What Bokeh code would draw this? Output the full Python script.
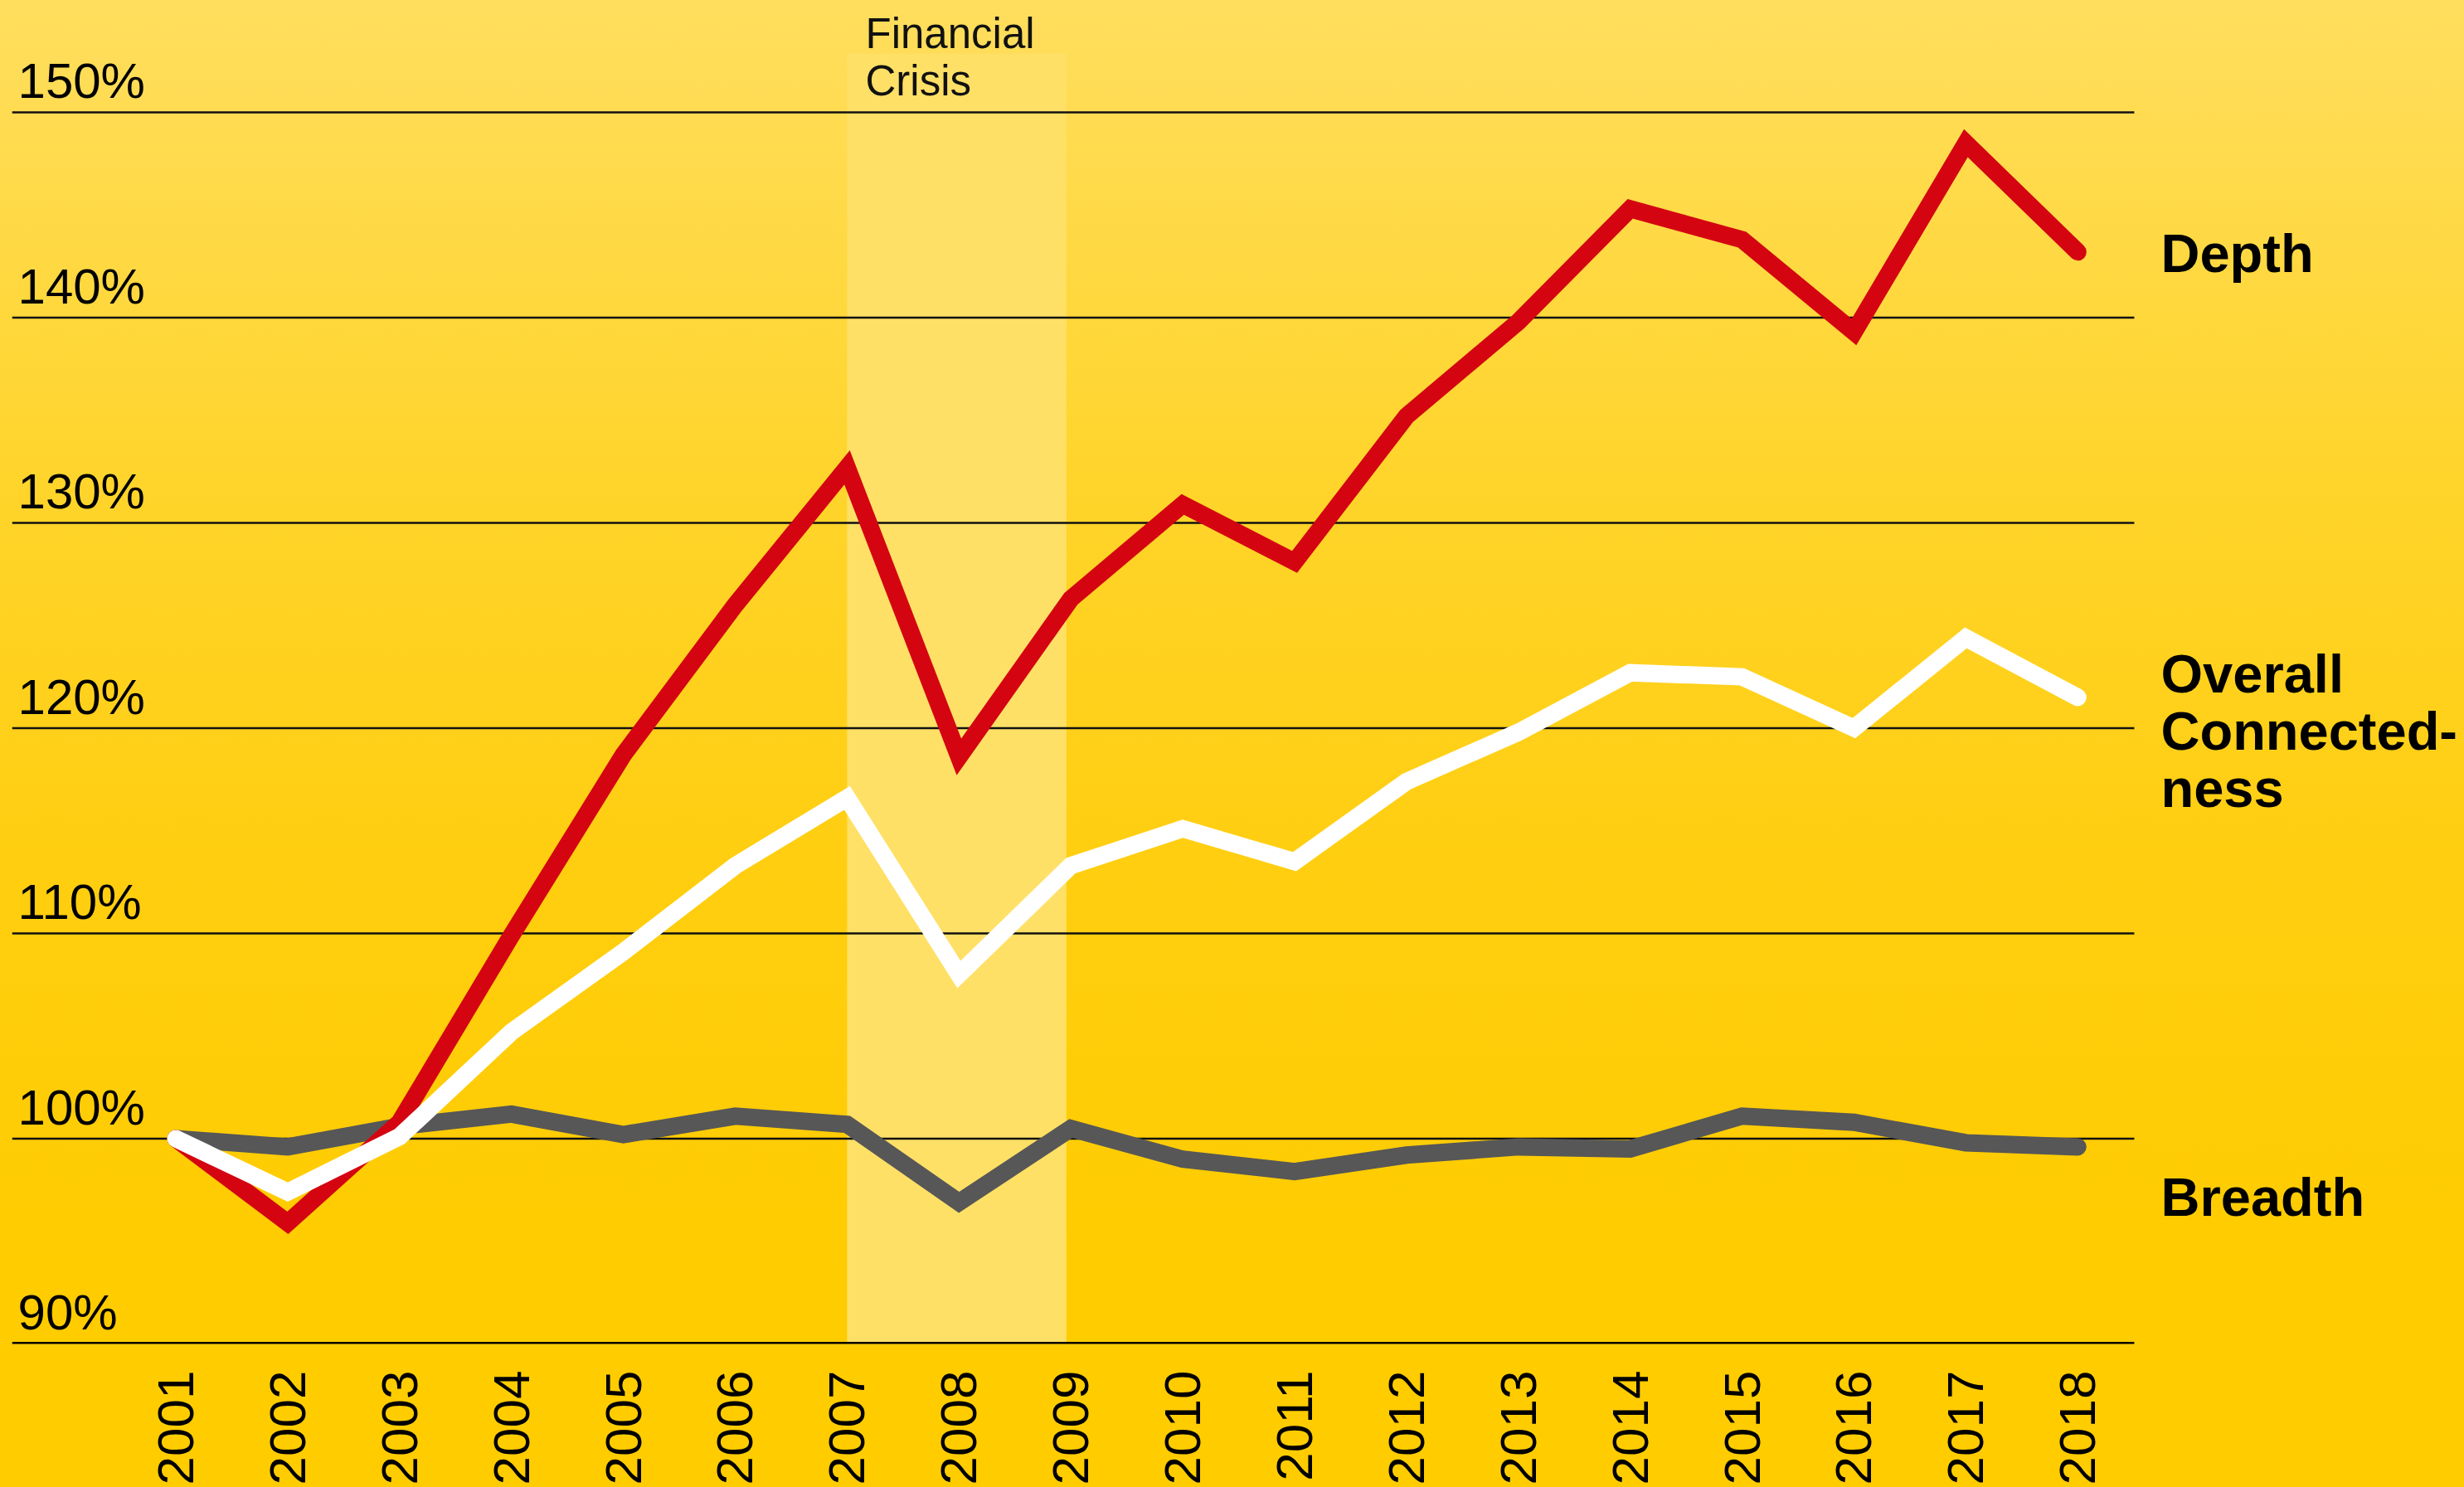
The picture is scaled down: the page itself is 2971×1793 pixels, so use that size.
import math
from bokeh.plotting import figure
from bokeh.models import FixedTicker, Range1d, BoxAnnotation
from bokeh.core.properties import value
from bokeh.embed import file_html
from bokeh.resources import INLINE

# ---------------- data ----------------
years = list(range(2001, 2019))
year_labels = [str(y) for y in years]

depth = [100.0, 95.9, 100.8, 109.9, 118.7, 126.0, 132.7, 118.6, 126.3, 130.9,
         128.1, 135.2, 139.8, 145.3, 143.8, 139.3, 148.5, 143.2]
overall = [100.0, 97.4, 100.1, 105.2, 109.1, 113.3, 116.6, 108.0, 113.3, 115.1,
           113.5, 117.4, 119.8, 122.7, 122.5, 120.0, 124.4, 121.5]
breadth = [100.0, 99.6, 100.6, 101.2, 100.2, 101.1, 100.7, 96.9, 100.5, 99.0,
           98.4, 99.2, 99.6, 99.5, 101.1, 100.8, 99.8, 99.6]

y_ticks = [90, 100, 110, 120, 130, 140, 150]
y_tick_labels = ["90%", "100%", "110%", "120%", "130%", "140%", "150%"]

crisis_start, crisis_end = 2007, 2009
crisis_label = ["Financial", "Crisis"]

series_label_lines = ["Depth", "Overall", "Connected-", "ness", "Breadth"]

# ---------------- styling ----------------
FONT = "Liberation Sans"
RED = "#D40511"
GREY = "#575757"
WHITE = "#FFFFFF"

W, H = 2971, 1793
x0, x1 = 1999.536, 2021.456
y0, y1 = 90.0, 155.455
grid_end = 2018.505
PX = 24.75          # screen px per y unit
TXT_FIX = 0.38      # baseline correction (em)

p = figure(width=W, height=H, output_backend="svg", toolbar_location=None,
           x_range=Range1d(x0, x1), y_range=Range1d(y0, y1),
           y_axis_location=None,
           min_border_left=14, min_border_right=0, min_border_top=0,
           min_border_bottom=173)

p.background_fill_alpha = 0
p.border_fill_alpha = 0
p.outline_line_color = None
p.styles = {"background": "linear-gradient(180deg, #FFDE5E 0%, #FFD52E 30%, #FFCE10 58%, #FFCC00 85%, #FFCC00 100%)"}

# crisis band (below everything)
band = BoxAnnotation(left=crisis_start, right=crisis_end - 0.04, bottom=y0, top=152.87,
                     fill_color="#FFE066", fill_alpha=1.0, line_color=None, level="image")
p.add_layout(band)

# grid lines (only across the plotting area, not under the labels on the right)
p.xgrid.visible = False
p.ygrid.visible = False
grid_vals = y_ticks[1:]
p.segment(x0=[x0] * len(grid_vals), x1=[grid_end] * len(grid_vals),
          y0=grid_vals, y1=grid_vals, line_color="#111111", line_width=2.3)
# baseline (x-axis line)
p.segment(x0=[x0], x1=[grid_end], y0=[y_ticks[0]], y1=[y_ticks[0]],
          line_color="#000000", line_width=5)

# x axis (labels only)
ax = p.xaxis[0]
ax.ticker = FixedTicker(ticks=years)
ax.major_label_overrides = {y: s for y, s in zip(years, year_labels)}
ax.major_label_orientation = math.pi / 2
ax.major_tick_line_color = None
ax.minor_tick_line_color = None
ax.axis_line_color = None
ax.major_label_text_font = FONT
ax.major_label_text_font_size = "62px"
ax.major_label_text_color = "#000000"
ax.major_label_standoff = 26

# lines
for vals, col in [(breadth, GREY), (depth, RED), (overall, WHITE)]:
    p.line(years, vals, line_color=col, line_width=21, line_cap="round", line_join="miter")

# y tick labels (above gridlines, at left)
fs = 60
p.text(x=[1999.588] * len(y_ticks),
       y=[t + (15 + TXT_FIX * fs) / PX for t in y_ticks], text=y_tick_labels,
       text_font=value(FONT), text_font_size=f"{fs}px", text_color="#000000",
       text_baseline="alphabetic", text_align="left")

# financial crisis label
fs = 51
p.text(x=[2007.164, 2007.164],
       y=[153.059 + TXT_FIX * fs / PX, 150.740 + TXT_FIX * fs / PX], text=crisis_label,
       text_font=value(FONT), text_font_size=f"{fs}px", text_color="#111111",
       text_baseline="alphabetic", text_align="left")

# series labels on the right
fs = 65
lab_y = [142.12, 121.64, 118.85, 116.06, 96.14]
p.text(x=[2018.743] * len(series_label_lines),
       y=[v + TXT_FIX * fs / PX for v in lab_y], text=series_label_lines,
       text_font=value(FONT), text_font_size=f"{fs}px", text_font_style="bold",
       text_color="#000000", text_baseline="alphabetic", text_align="left")

open("out.html", "w").write(file_html(p, INLINE))
